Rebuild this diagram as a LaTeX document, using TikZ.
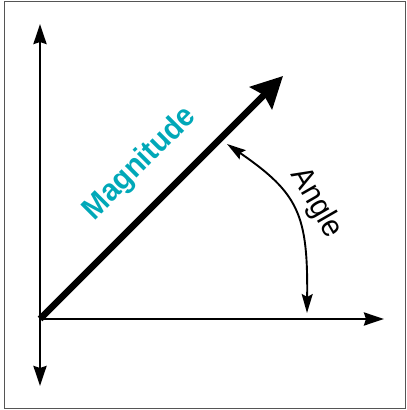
\documentclass[tikz,border=0pt]{standalone}
\usepackage{fontspec}
\setmainfont{Liberation Sans}
\newfontfamily\magfont[FakeStretch=0.94]{Liberation Sans}
\usetikzlibrary{arrows.meta}
\definecolor{magteal}{RGB}{0,168,184}
\definecolor{framegray}{RGB}{85,85,85}
\begin{document}
\begin{tikzpicture}[x=1pt,y=1pt,
  axis/.style={line width=2.6pt,-{Stealth[length=20pt,width=13pt,inset=2pt]}},
  magarrow/.style={line width=6.5pt,line cap=butt,-{Stealth[length=31pt,width=31pt,inset=4pt]}},
  anglearc/.style={line width=1.9pt,{Stealth[length=19pt,width=11pt,inset=3pt]}-{Stealth[length=19pt,width=11pt,inset=3pt]}},
  maglabel/.style={text=magteal,font=\magfont\fontsize{31}{31}\selectfont\bfseries,rotate=45,inner sep=0pt},
  anglabel/.style={text=black,font=\magfont\fontsize{31}{31}\selectfont,rotate=-60,inner sep=0pt}]
\useasboundingbox (0,0) rectangle (407,410);
\draw[framegray,line width=1.5pt] (4.3,1.3) rectangle (405.7,408.7);
\coordinate (O) at (40,91);
\coordinate (Ytop) at (40,386);
\coordinate (Ybot) at (40,24);
\coordinate (Xend) at (384,91);
\coordinate (Mtip) at (283,334);
\coordinate (A1) at (307,97);
\coordinate (A2) at (227,266);
\draw[axis] (O) -- (Ytop);
\draw[axis] (O) -- (Ybot);
\draw[axis] (O) -- (Xend);
\draw[magarrow] (O) -- (Mtip);
\draw[anglearc] (A1) .. controls (308,195) and (299,216.5) .. (A2);
\node[maglabel] (mag) at (140,246) {Magnitude};
\node[anglabel] (ang) at (316,207) {Angle};
\end{tikzpicture}
\end{document}
